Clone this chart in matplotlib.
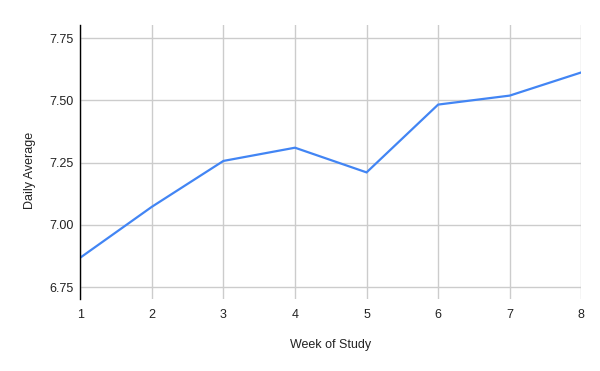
import matplotlib.pyplot as plt

# Haftalik ortalama degerler
weeks = [1, 2, 3, 4, 5, 6, 7, 8]
daily_avg = [6.869, 7.073, 7.257, 7.310, 7.211, 7.483, 7.519, 7.612]
y_ticks = [6.75, 7.00, 7.25, 7.50, 7.75]

plt.rcParams['font.family'] = ['Liberation Sans', 'DejaVu Sans']

fig = plt.figure(figsize=(6, 3.71), dpi=100)
ax = fig.add_axes([0.1338, 0.1933, 0.835, 0.7385])

ax.plot(weeks, daily_avg, color='#4285F4', linewidth=1.6, solid_joinstyle='miter')

ax.set_xlim(1, 8)
ax.set_ylim(6.702, 7.801)
ax.set_xticks(weeks)
ax.set_yticks(y_ticks)
ax.set_yticklabels([f'{v:.2f}' for v in y_ticks])

ax.grid(True, color='#cccccc', linewidth=1)
ax.set_axisbelow(True)
for side in ['top', 'right', 'bottom']:
    ax.spines[side].set_visible(False)
ax.spines['left'].set_color('black')
ax.spines['left'].set_linewidth(1)

ax.tick_params(axis='both', length=0, labelsize=9, colors='#222222')
ax.tick_params(axis='y', pad=5)
ax.tick_params(axis='x', pad=7)

ax.set_xlabel('Week of Study', fontsize=9, color='#222222', labelpad=13)
ax.set_ylabel('Daily Average', fontsize=9, color='#222222', labelpad=9)
ax.yaxis.label.set_y(0.472)

fig.savefig('out.png', dpi=100)
